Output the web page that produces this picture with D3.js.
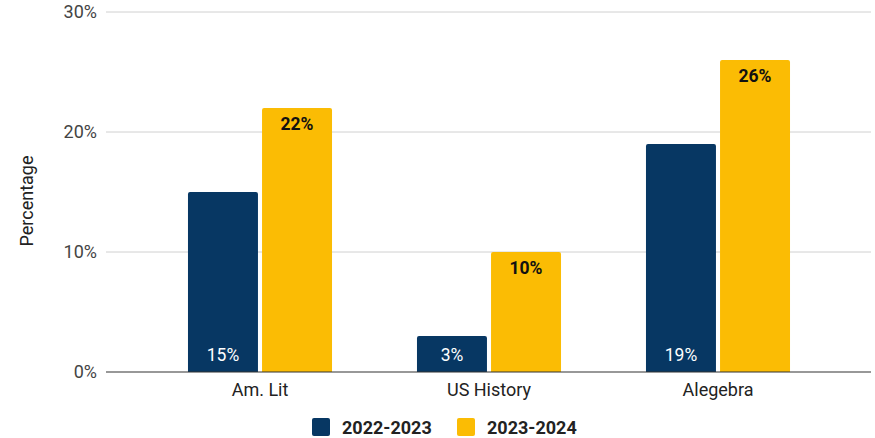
<!DOCTYPE html>
<html><head><meta charset="utf-8">
<script src="https://cdn.jsdelivr.net/npm/d3@7"></script>
<style>body{margin:0;background:#fff}svg{display:block;font-family:Roboto,sans-serif}</style>
</head><body><svg id="c" width="875" height="438"></svg>
<script>
const categories = ["Am. Lit", "US History", "Alegebra"];
const seriesNames = ["2022-2023", "2023-2024"];
const values2022 = [15, 3, 19];
const values2023 = [22, 10, 26];
const yTicks = [0, 10, 20, 30];
const colors = ["#073763", "#fbbc04"];

const svg = d3.select("#c");
const y = d3.scaleLinear().domain([0, 30]).range([372, 12]);
const x0 = d3.scaleBand().domain(categories).range([145.5, 832.5]).paddingInner(0.371).paddingOuter(0.1855);
const x1 = d3.scaleBand().domain(seriesNames).range([0, x0.bandwidth()]).paddingInner(0.055);

// gridlines
svg.append("g").selectAll("line").data(yTicks.filter(t => t > 0)).join("line")
  .attr("x1", 106).attr("x2", 871).attr("y1", d => y(d)).attr("y2", d => y(d))
  .attr("stroke", "#d0d0d0").attr("stroke-width", 1);
// tick labels
svg.append("g").selectAll("text").data(yTicks).join("text")
  .attr("x", 97).attr("y", d => y(d) + 6).attr("text-anchor", "end")
  .attr("font-size", 18).attr("fill", "#444").text(d => d + "%");
// y title
svg.append("text").attr("transform", "translate(33,201) rotate(-90)")
  .attr("text-anchor", "middle").attr("font-size", 18).attr("fill", "#222").text("Percentage");

const data = categories.map((c, i) => ({cat: c, vals: [values2022[i], values2023[i]]}));
const r = 2;
function topRounded(x, yTop, w, yBot) {
  return `M${x},${yBot}V${yTop + r}Q${x},${yTop} ${x + r},${yTop}H${x + w - r}Q${x + w},${yTop} ${x + w},${yTop + r}V${yBot}Z`;
}
const groups = svg.append("g").selectAll("g").data(data).join("g")
  .attr("transform", d => `translate(${x0(d.cat)},0)`);
groups.selectAll("path").data(d => d.vals.map((v, j) => ({v, s: seriesNames[j], j}))).join("path")
  .attr("d", d => topRounded(x1(d.s), y(d.v), x1.bandwidth(), y(0)))
  .attr("fill", d => colors[d.j]);
groups.selectAll("text").data(d => d.vals.map((v, j) => ({v, s: seriesNames[j], j}))).join("text")
  .attr("x", d => x1(d.s) + x1.bandwidth() / 2)
  .attr("y", d => d.j === 0 ? y(0) - 11 : y(d.v) + 22)
  .attr("text-anchor", "middle").attr("font-size", 17.5)
  .attr("font-weight", d => d.j === 0 ? 400 : 700)
  .attr("fill", d => d.j === 0 ? "#fff" : "#111")
  .text(d => d.v + "%");

// baseline
svg.append("line").attr("x1", 106).attr("x2", 871).attr("y1", y(0)).attr("y2", y(0))
  .attr("stroke", "#333").attr("stroke-width", 1.2);

// category labels
svg.append("g").selectAll("text").data(categories).join("text")
  .attr("x", d => x0(d) + x0.bandwidth() / 2).attr("y", 396).attr("text-anchor", "middle")
  .attr("font-size", 18).attr("fill", "#222").text(d => d);

// legend
const legX = [312, 457];
const leg = svg.append("g").selectAll("g").data(seriesNames).join("g")
  .attr("transform", (d, i) => `translate(${legX[i]},418)`);
leg.append("rect").attr("width", 18).attr("height", 18).attr("rx", 2).attr("fill", (d, i) => colors[i]);
leg.append("text").attr("x", 30).attr("y", 16).attr("font-size", 18).attr("font-weight", 700)
  .attr("fill", "#222").text(d => d);
</script></body></html>
